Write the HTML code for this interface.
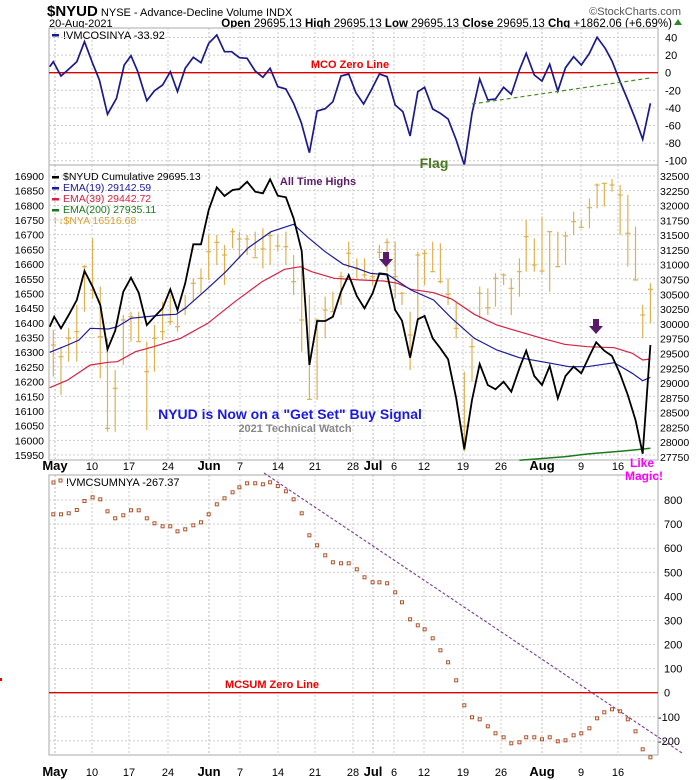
<!DOCTYPE html><html><head><meta charset="utf-8"><style>
body{margin:0;background:#fff;width:700px;height:780px;overflow:hidden;font-family:"Liberation Sans",sans-serif}
svg{display:block}
</style></head><body>
<svg id="s" width="700" height="780" xmlns="http://www.w3.org/2000/svg" font-family="Liberation Sans, sans-serif"></svg>
<script>
const S=document.getElementById('s');let h='';let ov='';
const L=49,R=658;
const X=zx=>zx/2.214;
function poly(pts,col,w,extra){return `<polyline fill="none" stroke="${col}" stroke-width="${w}" ${extra||''} points="${pts.map(p=>p[0].toFixed(1)+','+p[1].toFixed(1)).join(' ')}"/>`;}
function txt(x,y,t,o){o=o||{};return `<text x="${x}" y="${y}" font-size="${o.s||11}" fill="${o.c||'#000'}" ${o.b?'font-weight="bold"':''} ${o.a?'text-anchor="'+o.a+'"':''}>${t}</text>`;}
// header
h+=txt(47,16,'<tspan font-weight="bold" font-size="15">$NYUD</tspan> NYSE - Advance-Decline Volume INDX',{s:11});
h+=txt(681,15,'©StockCharts.com',{s:11,a:'end',c:'#555'});
h+=txt(49,27,'20-Aug-2021',{s:11});
h+=txt(672,27,'<tspan font-weight="bold">Open</tspan> 29695.13 <tspan font-weight="bold">High</tspan> 29695.13 <tspan font-weight="bold">Low</tspan> 29695.13 <tspan font-weight="bold">Close</tspan> 29695.13 <tspan font-weight="bold">Chg</tspan> +1862.06 (+6.69%)',{s:11.5,a:'end'});
h+='<polygon points="674,25 682,25 678,19" fill="#2a8a2a"/>';
// date grid
const dates=[['May',55,1],['10',92],['17',129],['24',168],['Jun',209,1],['7',240],['14',278],['21',315],['28',353],['Jul',373,1],['6',394],['12',424],['19',463],['26',501],['Aug',542,1],['9',581],['16',618]];
function panel(t,b){let g=`<rect x="${L}" y="${t}" width="${R-L}" height="${b-t}" fill="#fff" stroke="#aaa"/>`;
dates.forEach(d=>{g+=`<line x1="${d[1]}" y1="${t}" x2="${d[1]}" y2="${b}" stroke="${d[2]?'#bbb':'#ccc'}" stroke-dasharray="2,2"/>`});return g;}
function hgrid(t,b,ys){return ys.map(y=>`<line x1="${L}" y1="${y}" x2="${R}" y2="${y}" stroke="#ccc" stroke-dasharray="2,2"/>`).join('');}
function dlab(y){return dates.map(d=>txt(d[1],y,d[0],{s:d[2]?13:11,b:d[2],a:'middle'})).join('');}
// TOP panel
h+=panel(28,165);
const ty=v=>72.7-v*0.88;
[40,20,0,-20,-40,-60,-80,-100].forEach(v=>{h+=hgrid(0,0,[ty(v)]);h+=txt(665,ty(v)+4,v,{s:11})});
h+=`<line x1="${L}" y1="${ty(0)}" x2="${R}" y2="${ty(0)}" stroke="#d00" stroke-width="1.3"/>`;
const mco=[[110,200],[118,185],[135,228],[150,210],[170,185],[187,125],[205,190],[220,240],[238,343],[258,295],[275,195],[290,167],[305,215],[325,302],[342,272],[360,255],[377,215],[393,275],[410,205],[428,172],[445,188],[462,130],[480,105],[497,155],[513,155],[530,173],[547,175],[565,213],[582,232],[598,205],[615,260],[633,267],[650,310],[667,368],[685,458],[702,333],[720,326],[737,305],[755,228],[772,222],[788,278],[805,312],[822,270],[840,222],[857,230],[875,315],[892,335],[908,408],[925,275],[940,262],[958,327],[975,340],[992,357],[1010,420],[1028,495],[1045,340],[1062,237],[1080,300],[1097,297],[1115,262],[1132,283],[1150,210],[1165,160],[1183,225],[1200,243],[1217,193],[1235,273],[1252,203],[1270,170],[1287,195],[1305,160],[1322,112],[1340,145],[1355,183],[1373,245],[1390,300],[1407,358],[1423,418],[1440,310]];
h+=poly(mco.map(p=>[X(p[0]),p[1]/3]),'#1a1a8c',1.7);
h+=`<line x1="472" y1="104" x2="650" y2="78" stroke="#4a8a2a" stroke-width="1.2" stroke-dasharray="4,3"/>`;
h+='<rect x="52" y="34" width="7" height="2.5" fill="#1a1a8c"/>'+txt(63,39,'!VMCOSINYA -33.92',{s:11});
h+=txt(350,68,'MCO Zero Line',{s:11,b:1,c:'#e00',a:'middle'});
ov+=txt(434,168,'Flag',{s:14,b:1,c:'#4a7a1e',a:'middle'});
// MIDDLE panel
h+=panel(165,460);
const ly=v=>176+(16900-v)*0.2937;
for(let v=16900;v>=15950;v-=50){h+=hgrid(0,0,[ly(v)]);h+=txt(44,ly(v)+4,v,{s:10.5,a:'end'});}
const ry=v=>176+(32500-v)*(281/4750);
for(let v=32500;v>=27750;v-=250){h+=txt(660,ry(v)+4,v,{s:10.5});}
const Y2=zy=>165+zy/3;
const bars=[[118,495,635,540],[135,545,690,575],[152,490,590,520],[170,420,590,500],[187,300,440,305],[205,220,400,375],[222,365,640,515],[238,520,800,790],[255,615,800,670],[273,450,600,465],[290,440,530,455],[307,440,530,530],[325,530,795,620],[342,480,620,520],[360,410,525,500],[377,390,480,470],[393,440,500,485],[410,390,450,430],[428,340,410,355],[445,310,385,340],[462,210,345,260],[480,210,300,232],[497,240,360,270],[515,190,250,200],[530,200,280,222],[547,210,270,222],[565,200,275,278],[582,190,310,252],[598,200,300,212],[615,210,260,243],[633,200,300,245],[650,270,390,350],[668,300,560,465],[685,390,705,703],[702,460,705,465],[720,395,520,435],[737,380,440,440],[755,320,420,335],[772,230,310,265],[790,280,340,310],[807,280,340,330],[825,320,360,335],[840,240,280,262],[857,220,320,232],[875,230,400,335],[890,380,420,385],[908,440,615,510],[925,260,470,270],[940,255,360,265],[958,230,320,320],[975,235,355,350],[992,340,420,388],[1010,410,520,490],[1028,620,860,785],[1045,520,650,545],[1062,365,460,385],[1080,370,450,428],[1097,325,425,340],[1115,325,360,330],[1132,340,450,370],[1150,280,395,320],[1165,165,320,215],[1183,220,320,300],[1200,155,325,318],[1217,200,380,200],[1235,200,305,305],[1252,200,300,213],[1270,140,210,170],[1287,165,190,187],[1305,100,190,128],[1322,55,130,60],[1338,55,125,55],[1355,42,80,60],[1373,60,210,90],[1390,90,305,205],[1407,185,345,345],[1423,420,520,450],[1440,355,475,373]];
bars.forEach(b=>{const x=X(b[0]);h+=`<line x1="${x}" y1="${Y2(b[1])}" x2="${x}" y2="${Y2(b[2])}" stroke="#e0b050" stroke-width="1.2"/><line x1="${x-2.5}" y1="${Y2(b[3])}" x2="${x+2.5}" y2="${Y2(b[3])}" stroke="#e0b050" stroke-width="1.2"/>`});
const red=[[110,668],[150,645],[200,600],[240,592],[260,590],[300,560],[340,545],[400,520],[460,475],[520,410],[580,350],[630,313],[665,305],[690,320],[740,340],[800,345],[850,348],[880,355],[910,373],[960,383],[1000,402],[1050,448],[1100,480],[1150,500],[1200,520],[1250,538],[1300,545],[1360,548],[1400,565],[1423,585],[1440,582]];
const blue=[[110,562],[150,540],[175,525],[200,490],[240,492],[260,485],[290,460],[360,450],[390,448],[410,430],[460,370],[500,320],[550,248],[600,200],[650,178],[680,215],[720,260],[760,298],[790,310],[820,325],[860,330],[910,375],[960,405],[1000,460],[1050,520],[1100,555],[1150,578],[1220,595],[1260,605],[1300,605],[1360,593],[1400,625],[1423,647],[1440,637]];
const green=[[1150,886],[1250,875],[1300,867],[1380,858],[1440,850]];
h+=poly(red.map(p=>[X(p[0]),Y2(p[1])]),'#d82040',1.2);
h+=poly(blue.map(p=>[X(p[0]),Y2(p[1])]),'#1a1aa0',1.2);
h+=poly(green.map(p=>[X(p[0]),Y2(p[1])]),'#1a7a1a',1.5);
const blk=[[110,485],[120,455],[135,490],[152,450],[170,405],[187,318],[205,365],[222,420],[238,553],[255,497],[273,380],[290,338],[307,383],[325,480],[342,455],[360,430],[377,373],[393,435],[410,355],[428,238],[445,238],[462,135],[480,67],[497,93],[515,75],[530,72],[547,50],[565,80],[582,85],[598,43],[615,92],[633,97],[650,160],[668,258],[685,600],[702,468],[720,468],[737,455],[755,380],[772,330],[790,393],[807,430],[825,385],[840,325],[857,328],[875,435],[890,467],[908,578],[925,463],[940,453],[958,520],[975,550],[992,583],[1010,700],[1028,853],[1045,705],[1062,597],[1080,660],[1097,673],[1115,650],[1132,680],[1150,610],[1165,557],[1183,633],[1200,660],[1217,603],[1235,700],[1252,633],[1270,605],[1287,625],[1305,573],[1320,532],[1338,557],[1355,573],[1373,627],[1390,690],[1407,765],[1423,866],[1440,540]];
h+=poly(blk.map(p=>[X(p[0]),Y2(p[1])]),'#000',1.8);
const leg=[['#000','$NYUD Cumulative 29695.13','#000',180],['#1a1aa0','EMA(19) 29142.59','#1a1aa0',191],['#d82040','EMA(39) 29442.72','#d82040',202],['#1a7a1a','EMA(200) 27935.11','#1a7a1a',213]];
leg.forEach(l=>{h+=`<rect x="52" y="${l[3]-4}" width="7" height="2.5" fill="${l[0]}"/>`+txt(63,l[3],l[1],{s:10.5,c:l[2]})});
h+=txt(53,224,'↑↓$NYA 16516.68',{s:10.5,c:'#d8a030'});
h+=txt(318,185,'All Time Highs',{s:11,b:1,c:'#5a1a6a',a:'middle'});
h+=txt(290,419,'NYUD is Now on a "Get Set" Buy Signal',{s:14,b:1,c:'#1a1ae0',a:'middle'});
h+=txt(295,432,'2021 Technical Watch',{s:11,b:1,c:'#888',a:'middle'});
function arrow(x,y){return `<polygon points="${x-3},${y-10} ${x+3},${y-10} ${x+3},${y-3} ${x+7},${y-3} ${x},${y+5} ${x-7},${y-3} ${x-3},${y-3}" fill="#5a1a6a"/>`;}
h+=arrow(386,262)+arrow(596,329);
h+=dlab(470);
ov+=txt(642,467,'Like',{s:12,b:1,c:'#f0f',a:'middle'})+txt(644,480,'Magic!',{s:12,b:1,c:'#f0f',a:'middle'});
// BOTTOM panel
h+=panel(475,755);
const by=v=>692.7-v*0.2408;
for(let v=800;v>=-200;v-=100){h+=hgrid(0,0,[by(v)]);h+=txt(v<0?658:664,by(v)+4,v,{s:11});}
h+=`<line x1="${L}" y1="${by(0)}" x2="${R}" y2="${by(0)}" stroke="#d00" stroke-width="1.3"/>`;
h+=`<line x1="264" y1="473" x2="682" y2="753" stroke="#7a3a9a" stroke-width="1.1" stroke-dasharray="3,2"/>`;
const sm=[[118,133],[135,133],[152,130],[170,120],[187,93],[205,82],[222,88],[238,124],[255,145],[273,136],[290,121],[307,121],[325,145],[342,160],[360,169],[377,169],[393,184],[410,178],[428,166],[445,157],[462,133],[480,103],[497,85],[515,67],[530,52],[547,40],[565,40],[582,43],[598,37],[615,48],[633,64],[650,88],[668,130],[685,196],[702,226],[720,256],[737,277],[755,280],[772,280],[790,298],[807,322],[825,337],[840,337],[857,340],[875,367],[890,397],[908,448],[925,466],[940,478],[958,505],[975,541],[992,577],[1010,631],[1028,706],[1045,742],[1062,748],[1080,769],[1097,790],[1115,802],[1132,820],[1150,817],[1165,802],[1183,802],[1200,808],[1217,802],[1235,814],[1252,811],[1270,796],[1287,790],[1305,775],[1322,745],[1338,727],[1355,718],[1373,724],[1390,748],[1407,784],[1423,838],[1440,862]];
sm.forEach(p=>{h+=`<rect x="${(X(p[0])-1.5).toFixed(1)}" y="${(470+p[1]/3-1.5).toFixed(1)}" width="3" height="3" fill="none" stroke="#b0522a" stroke-width="1"/>`});
h+=`<rect x="52" y="481" width="3" height="3" fill="none" stroke="#b0522a"/><rect x="59" y="479" width="3" height="3" fill="none" stroke="#b0522a"/>`+txt(66,486,'!VMCSUMNYA -267.37',{s:11});
h+=txt(272,688,'MCSUM Zero Line',{s:11,b:1,c:'#e00',a:'middle'});
h+=dlab(776);
h+=`<rect x="0" y="678" width="2" height="3" fill="#e00"/>`;
S.innerHTML=h+ov;
</script>
</body></html>
